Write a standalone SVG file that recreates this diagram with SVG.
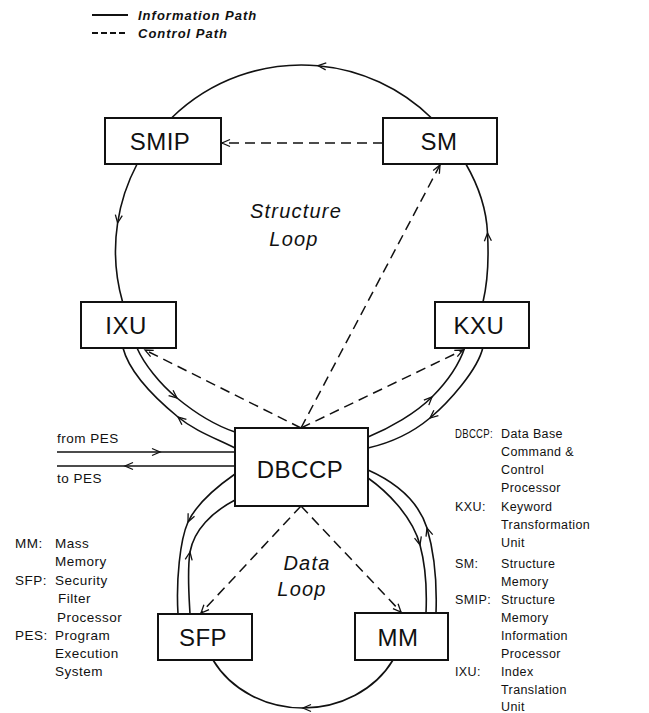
<svg xmlns="http://www.w3.org/2000/svg" width="649" height="713" viewBox="0 0 649 713">
<style>
.ln{fill:none;stroke:#111;stroke-width:1.6}
.ds{fill:none;stroke:#111;stroke-width:1.5;stroke-dasharray:10 6}
.bx{fill:#fff;stroke:#111;stroke-width:2}
.lb{font-family:"Liberation Sans",Arial,sans-serif;font-size:24px;text-anchor:middle;fill:#111;letter-spacing:0.5px}
.it{font-family:"Liberation Sans",Arial,sans-serif;font-style:italic;fill:#111}
.lg{font-family:"Liberation Sans",Arial,sans-serif;font-size:13.5px;fill:#111;letter-spacing:0.5px}
.rk{font-family:"Liberation Sans",Arial,sans-serif;font-size:12.5px;fill:#111;letter-spacing:0.4px}
</style>
<defs>
<marker id="ah" viewBox="-10 -5 12 10" refX="0" refY="0" markerWidth="12" markerHeight="10" markerUnits="userSpaceOnUse" orient="auto" overflow="visible">
<path d="M-8,-3.5 L0,0 L-8,3.5" fill="none" stroke="#111" stroke-width="1.3" stroke-dasharray="none"/>
</marker>
</defs>
<rect width="649" height="713" fill="#fff"/>

<g id="legend">
<line x1="92" y1="15" x2="128" y2="15" stroke="#111" stroke-width="2"/>
<text class="it" x="138" y="20" font-size="13" font-weight="bold" letter-spacing="1">Information Path</text>
<line x1="92" y1="33" x2="128" y2="33" stroke="#111" stroke-width="2" stroke-dasharray="6 3"/>
<text class="it" x="138" y="38" font-size="13" font-weight="bold" letter-spacing="1">Control Path</text>
</g>

<g id="connectors">
<path class="ln" marker-mid="url(#ah)" d="M431.5,118 A186,186 0 0 0 318,65.7 A186,186 0 0 0 171.5,118"/>
<path class="ln" marker-mid="url(#ah)" d="M137.1,164 A186,186 0 0 0 117.6,223 A186,186 0 0 0 122.6,302"/>
<path class="ln" marker-mid="url(#ah)" d="M483,302 C487,285 489,260 487.5,233 C486.5,210 478,185 465.9,164"/>
<path class="ln" marker-mid="url(#ah)" d="M137,348 C144,364 160,384 177,398 C194,412 214,425 235,432"/>
<path class="ln" marker-mid="url(#ah)" d="M235,448 C215,438 195,431 178,417 C161,403 130,375 123,348"/>
<path class="ln" marker-mid="url(#ah)" d="M368,437 C390,428 416,413 432,397 C448,381 460,362 465,347"/>
<path class="ln" marker-mid="url(#ah)" d="M483,347 C478,370 448,403 430,418 C412,433 390,443 368,448"/>
<path class="ln" marker-mid="url(#ah)" d="M235,474 C215,488 196,505 188,522 C180,540 176,580 178,614"/>
<path class="ln" marker-mid="url(#ah)" d="M190,614 C189,595 187,572 190,552 C194,530 212,512 235,500"/>
<path class="ln" marker-mid="url(#ah)" d="M368,478 C385,490 412,515 420,545 C426,567 427,590 426,613"/>
<path class="ln" marker-mid="url(#ah)" d="M436,613 C437,585 435,555 427,528 C418,500 395,482 368,470"/>
<path class="ln" marker-mid="url(#ah)" d="M393,660 C375,690 340,708 303,708 C266,708 231,690 213,660"/>
<path class="ln" marker-mid="url(#ah)" d="M57,452 L160,452 L235,452"/>
<path class="ln" marker-mid="url(#ah)" d="M235,466 L125,466 L57,466"/>
<path class="ds" marker-end="url(#ah)" d="M383,143 L222,143"/>
<path class="ds" marker-end="url(#ah)" d="M301,428 L440,165"/>
<path class="ds" marker-end="url(#ah)" d="M301,428 L145,350"/>
<path class="ds" marker-end="url(#ah)" d="M301,428 L463,350"/>
<path class="ds" marker-end="url(#ah)" d="M301,506 L201,613"/>
<path class="ds" marker-end="url(#ah)" d="M301,506 L401,612"/>
</g>

<g id="node-SMIP"><rect class="bx" x="105" y="118" width="116" height="46"/><text class="lb" x="160" y="150">SMIP</text></g>
<g id="node-SM"><rect class="bx" x="383" y="118" width="114" height="46"/><text class="lb" x="439" y="150">SM</text></g>
<g id="node-IXU"><rect class="bx" x="81" y="302" width="95" height="46"/><text class="lb" x="126" y="334">IXU</text></g>
<g id="node-KXU"><rect class="bx" x="435" y="302" width="94" height="46"/><text class="lb" x="479" y="334">KXU</text></g>
<g id="node-DBCCP"><rect class="bx" x="235" y="428" width="133" height="78"/><text class="lb" x="300" y="478" letter-spacing="2">DBCCP</text></g>
<g id="node-SFP"><rect class="bx" x="158" y="614" width="94" height="46"/><text class="lb" x="203" y="646">SFP</text></g>
<g id="node-MM"><rect class="bx" x="355" y="613" width="93" height="47"/><text class="lb" x="398" y="646">MM</text></g>

<g id="loop-labels">
<text class="it" x="296" y="218" font-size="20" text-anchor="middle" letter-spacing="1.2">Structure</text>
<text class="it" x="294" y="246" font-size="20" text-anchor="middle" letter-spacing="1.2">Loop</text>
<text class="it" x="307" y="570" font-size="20" text-anchor="middle" letter-spacing="1.2">Data</text>
<text class="it" x="302" y="596" font-size="20" text-anchor="middle" letter-spacing="1.2">Loop</text>
</g>

<g id="pes-labels">
<text class="lg" x="57" y="443">from PES</text>
<text class="lg" x="57" y="483">to PES</text>
</g>

<g id="key-left">
<text class="lg" x="15" y="548">MM:</text><text class="lg" x="55" y="548">Mass</text>
<text class="lg" x="55" y="566">Memory</text>
<text class="lg" x="15" y="585">SFP:</text><text class="lg" x="55" y="585">Security</text>
<text class="lg" x="58" y="603">Filter</text>
<text class="lg" x="57" y="622">Processor</text>
<text class="lg" x="15" y="640">PES:</text><text class="lg" x="55" y="640">Program</text>
<text class="lg" x="55" y="658">Execution</text>
<text class="lg" x="55" y="676">System</text>
</g>

<g id="key-right">
<text class="rk" x="455" y="438" textLength="38" lengthAdjust="spacingAndGlyphs">DBCCP:</text><text class="rk" x="501" y="438">Data Base</text>
<text class="rk" x="501" y="456">Command &amp;</text>
<text class="rk" x="501" y="474">Control</text>
<text class="rk" x="501" y="492">Processor</text>
<text class="rk" x="455" y="511">KXU:</text><text class="rk" x="501" y="511">Keyword</text>
<text class="rk" x="501" y="529">Transformation</text>
<text class="rk" x="501" y="547">Unit</text>
<text class="rk" x="455" y="568">SM:</text><text class="rk" x="501" y="568">Structure</text>
<text class="rk" x="501" y="586">Memory</text>
<text class="rk" x="455" y="604">SMIP:</text><text class="rk" x="501" y="604">Structure</text>
<text class="rk" x="501" y="622">Memory</text>
<text class="rk" x="501" y="640">Information</text>
<text class="rk" x="501" y="658">Processor</text>
<text class="rk" x="455" y="676">IXU:</text><text class="rk" x="501" y="676">Index</text>
<text class="rk" x="501" y="694">Translation</text>
<text class="rk" x="501" y="711">Unit</text>
</g>
</svg>
